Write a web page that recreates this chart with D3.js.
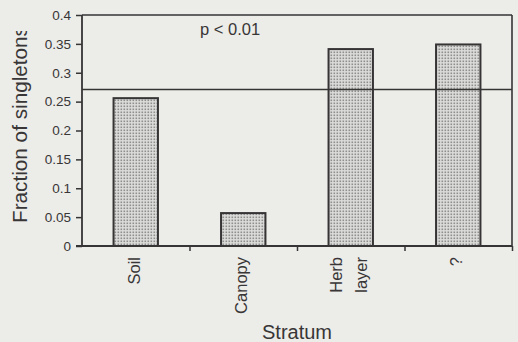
<!DOCTYPE html>
<html><head><meta charset="utf-8">
<script src="https://cdn.jsdelivr.net/npm/d3@7"></script>
<style>
html,body{margin:0;padding:0;background:#ecece9;}
svg{display:block;}
text{font-family:"Liberation Sans",Arial,sans-serif;fill:#383636;}
</style></head><body>
<script>
const categories = ["Soil", "Canopy", "Herb\nlayer", "?"];
const values = [0.256, 0.057, 0.341, 0.349];
const yTicks = [0, 0.05, 0.1, 0.15, 0.2, 0.25, 0.3, 0.35, 0.4];
const yTickLabels = ["0", "0.05", "0.1", "0.15", "0.2", "0.25", "0.3", "0.35", "0.4"];
const threshold = [0.271];
const annotation = "p < 0.01";
const xTitle = "Stratum";
const yTitle = "Fraction of singletons";

const W = 518, H = 342;
const m = {left: 82, right: 6, top: 15, bottom: 96};
const svg = d3.select("body").append("svg").attr("width", W).attr("height", H);
const ink = "#363434";

const defs = svg.append("defs");
const pat = defs.append("pattern").attr("id","dots").attr("patternUnits","userSpaceOnUse")
  .attr("width",3).attr("height",3);
pat.append("rect").attr("width",3).attr("height",3).attr("fill","#dcdcda");
pat.append("rect").attr("x",0.5).attr("y",0.5).attr("width",1.6).attr("height",1.6).attr("fill","#8e8e8c");
defs.append("clipPath").attr("id","yclip").append("rect").attr("x",0).attr("y",31).attr("width",60).attr("height",300);

const x = d3.scaleBand().domain(categories).range([m.left, W - m.right])
  .paddingInner(0.587).paddingOuter(0.2935);
const xi = d3.scaleLinear().domain([0, categories.length]).range([m.left, W - m.right]);
const y = d3.scaleLinear().domain([0, 0.4]).range([H - m.bottom, m.top]);

// bars
svg.selectAll("rect.bar").data(values).enter().append("rect").attr("class","bar")
  .attr("x",(d,i)=>x(categories[i])).attr("width",x.bandwidth())
  .attr("y",d=>y(d)).attr("height",d=>y(0)-y(d))
  .attr("fill","url(#dots)").attr("stroke",ink).attr("stroke-width",2);

// frame
svg.append("line").attr("x1",m.left).attr("x2",W-m.right).attr("y1",y(0.4)).attr("y2",y(0.4)).attr("stroke",ink).attr("stroke-width",1.6);
svg.append("line").attr("x1",W-m.right).attr("x2",W-m.right).attr("y1",y(0.4)).attr("y2",y(0)).attr("stroke",ink).attr("stroke-width",1.6);

// threshold line
svg.selectAll("line.thr").data(threshold).enter().append("line").attr("class","thr")
  .attr("x1",m.left).attr("x2",W-m.right).attr("y1",d=>y(d)).attr("y2",d=>y(d))
  .attr("stroke",ink).attr("stroke-width",1.6);

// y axis
const yAxis = d3.axisLeft(y).tickValues(yTicks).tickFormat((d,i)=>yTickLabels[i]).tickSize(6).tickPadding(5);
const gy = svg.append("g").attr("transform",`translate(${m.left},0)`).call(yAxis);
gy.select(".domain").attr("stroke",ink).attr("stroke-width",1.8).attr("d",`M0,${y(0.4)}V${y(0)}`);
gy.selectAll(".tick line").attr("stroke",ink).attr("stroke-width",1.5);
gy.selectAll(".tick text").attr("font-size",13.5).attr("fill","#383636")
  .style("font-family","'Liberation Sans',Arial,sans-serif");

// x axis (category boundaries ticks)
const xAxis = d3.axisBottom(xi).tickValues(d3.range(1, categories.length+1)).tickSize(5).tickFormat("");
const gx = svg.append("g").attr("transform",`translate(0,${y(0)})`).call(xAxis);
gx.select(".domain").attr("stroke",ink).attr("stroke-width",1.8).attr("d",`M${m.left-6},0H${W-m.right}`);
gx.selectAll(".tick line").attr("stroke",ink).attr("stroke-width",1.5);

// category labels
categories.forEach((c,i)=>{
  const lines = c.split("\n");
  const cx = x(c) + x.bandwidth()/2;
  const n = lines.length;
  lines.forEach((ln,j)=>{
    const off = (j - (n-1)/2) * 25;
    svg.append("text").attr("transform",`translate(${cx+off-2},${y(0)+11}) rotate(-90)`)
      .attr("text-anchor","end").attr("dy","0.35em").attr("font-size",16.5).text(ln);
  });
});

// annotation
svg.append("text").attr("x",200).attr("y",35).attr("font-size",16.5).text(annotation);

// titles
svg.append("text").attr("x",297).attr("y",339).attr("text-anchor","middle").attr("font-size",20).text(xTitle);
svg.append("g").attr("clip-path","url(#yclip)").append("text")
  .attr("transform","translate(27,223) rotate(-90)").attr("font-size",19.5)
  .attr("textLength",197).attr("lengthAdjust","spacingAndGlyphs").text(yTitle);
</script>
</body></html>
